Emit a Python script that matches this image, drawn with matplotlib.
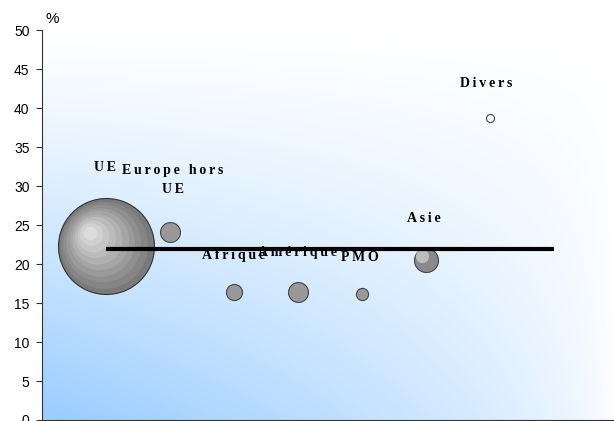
import numpy as np
import matplotlib
matplotlib.use("Agg")
import matplotlib.pyplot as plt

# regions, share (%) and bubble weight
regions = ["UE", "Europe hors\nUE", "Afrique", "Amérique", "PMO", "Asie", "Divers"]
share = [22.3, 24.1, 16.4, 16.4, 16.2, 20.5, 38.7]
weight = [100, 4.3, 2.8, 4.3, 1.6, 6.25, 0.7]
average = 21.9
avg_span = [1, 8]

xpos = np.arange(1, len(regions) + 1)

fig = plt.figure(figsize=(6.14, 4.21), dpi=100)
ax = fig.add_axes([0.0684, 0.0024, 0.9316, 0.926])
ax.set_xlim(0, 8.94)
ax.set_ylim(0, 50)

# background gradient (blue bottom-left to white top-right)
u, v = np.meshgrid(np.linspace(0, 1, 300), np.linspace(0, 1, 200))
f = np.clip(1 - u, 0, 1) ** 0.65 * np.clip(1 - v, 0, 1) ** 1.2
blue = np.array([153, 204, 255]) / 255.0
img = 1 - f[..., None] * (1 - blue)
ax.imshow(img, extent=[0, 1, 0, 1], transform=ax.transAxes, origin="lower",
          aspect="auto", zorder=0, interpolation="bilinear")

sizes = np.array(weight) * 47.76

# flat bubbles
for i in range(1, 7):
    face = "white" if i == 6 else ("#8a8a8a" if i == 5 else "#999999")
    ax.scatter(xpos[i], share[i], s=sizes[i], c=face,
               edgecolors="#444444", linewidths=0.8, zorder=3)

# shaded UE bubble
ax.scatter(xpos[0], share[0], s=sizes[0], c="#7a7a7a", edgecolors="#333333",
           linewidths=0.8, zorder=3)
for k, g in enumerate(np.linspace(0.52, 0.86, 9)):
    frac = 1 - (k + 1) / 10.5
    ax.scatter(xpos[0] - 0.3 * (1 - frac), share[0] + 2.0 * (1 - frac),
               s=sizes[0] * frac ** 2, c=[(g, g, g)], linewidths=0, zorder=3)

# Asie highlight
ax.scatter(xpos[5] - 0.06, share[5] + 0.5, s=sizes[5] * 0.3, c="#bdbdbd",
           linewidths=0, zorder=3)

# average line
ax.plot(avg_span, [average, average], color="black", lw=3, zorder=6,
        solid_capstyle="butt")


def spaced(s):
    return "\n".join("\u2009".join(line) for line in s.split("\n"))


label_pos = [(0.98, 32.4), (2.05, 30.8), (3.0, 21.1), (4.0, 21.5), (4.97, 20.8),
             (5.97, 25.9), (6.94, 43.1)]
for name, (lx, ly) in zip(regions, label_pos):
    ax.text(lx, ly, spaced(name), ha="center", va="center", fontsize=10,
            fontweight="bold", family=["Liberation Serif", "DejaVu Serif"],
            zorder=5, linespacing=1.6)

ax.spines["top"].set_visible(False)
ax.spines["right"].set_visible(False)
ax.spines["left"].set_color("#333333")
ax.spines["bottom"].set_color("#333333")
ax.set_xticks([])
ax.set_yticks(np.arange(0, 51, 5))
ax.tick_params(axis="y", length=4, labelsize=10, color="#333333", pad=5)
for t in ax.get_yticklabels():
    t.set_family("Liberation Sans")
ax.text(0.006, 1.01, "%", transform=ax.transAxes, fontsize=11,
        family="Liberation Sans", va="bottom")

fig.savefig("out.png", dpi=100)
